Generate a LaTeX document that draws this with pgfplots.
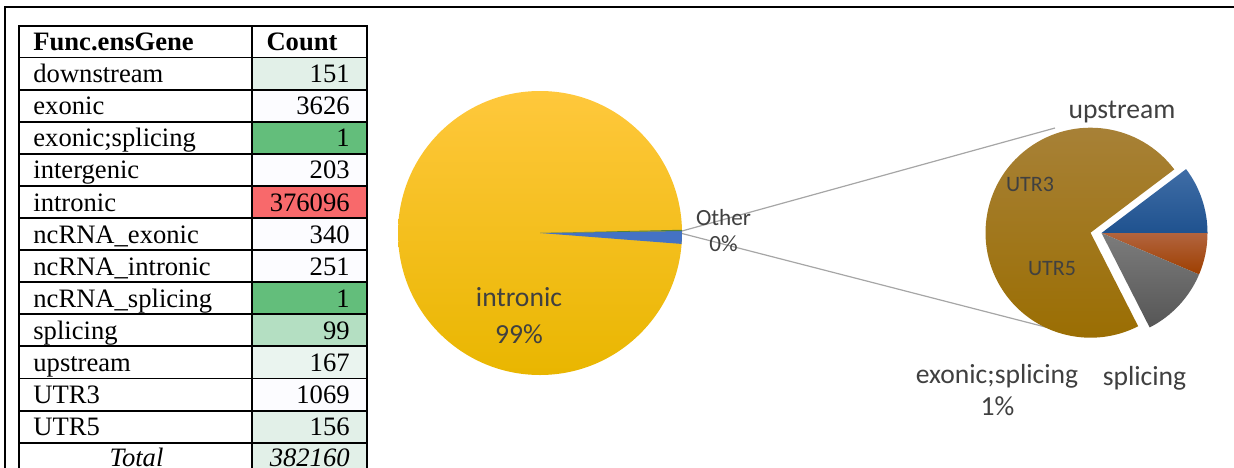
\documentclass[border=0pt]{standalone}
\usepackage{pgfplots}
\pgfplotsset{compat=1.18}
\usepackage{fontspec}
\setmainfont{Liberation Serif}
\newfontfamily\calib{Carlito}
\definecolor{lab}{HTML}{404040}
\definecolor{yelT}{HTML}{FFC83C}
\definecolor{yelB}{HTML}{E9B600}
\definecolor{brT}{HTML}{A8823A}
\definecolor{brB}{HTML}{9A6D00}
\definecolor{blT}{HTML}{3F6DA6}
\definecolor{blB}{HTML}{1F528F}
\definecolor{rdT}{HTML}{B2643E}
\definecolor{rdB}{HTML}{9E3F00}
\definecolor{grT}{HTML}{7C7C7C}
\definecolor{grB}{HTML}{565656}
\definecolor{mblue}{HTML}{4472C4}
\definecolor{mgreen}{HTML}{548235}
\definecolor{cLG}{HTML}{E2F0E8}
\definecolor{cW}{HTML}{FCFCFF}
\definecolor{cG}{HTML}{63BE7B}
\definecolor{cR}{HTML}{F8696B}
\definecolor{cMG}{HTML}{B4DFC2}
\definecolor{cUp}{HTML}{EAF4EF}
\definecolor{conn}{HTML}{A6A6A6}
% data (counts in thousands for pgfmath)
\def\valIntronic{376.096}
\def\valTotal{382.160}
% second pie shares (percent)
\def\shBrown{72.2}\def\shBlue{10.3}\def\shRed{6.4}\def\shGray{11.1}
\pgfmathsetmacro\otherdeg{360*(\valTotal-\valIntronic)/\valTotal}
\pgfmathsetmacro\oStart{1.3}
\pgfmathsetmacro\oEnd{\oStart-\otherdeg}
\pgfmathsetmacro\gEnd{\oStart-0.5}
\pgfmathsetmacro\aBlue{3.6*\shBlue}
\pgfmathsetmacro\aRed{-3.6*\shRed}
\pgfmathsetmacro\aGray{\aRed-3.6*\shGray}
\pgfmathsetmacro\aBrownEnd{\aBlue+3.6*\shBrown}
\begin{document}
\begin{tikzpicture}
\begin{axis}[
  width=617pt, height=233.5pt, scale only axis,
  xmin=0, xmax=1234, ymin=0, ymax=467,
  hide axis, clip=false]
% outer frame
\draw[black, line width=1pt] (axis cs:4.5,-10) -- (axis cs:4.5,459.7) -- (axis cs:1240,459.7);
% table cell fills
\fill[cLG] (axis cs:252.3,409.5) rectangle (axis cs:366.7,377.4);
\fill[cW]  (axis cs:252.3,377.4) rectangle (axis cs:366.7,345.3);
\fill[cG]  (axis cs:252.3,345.3) rectangle (axis cs:366.7,313.2);
\fill[cW]  (axis cs:252.3,313.2) rectangle (axis cs:366.7,281.1);
\fill[cR]  (axis cs:252.3,281.1) rectangle (axis cs:366.7,249.0);
\fill[cW]  (axis cs:252.3,249.0) rectangle (axis cs:366.7,216.9);
\fill[cW]  (axis cs:252.3,216.9) rectangle (axis cs:366.7,184.8);
\fill[cG]  (axis cs:252.3,184.8) rectangle (axis cs:366.7,152.7);
\fill[cMG] (axis cs:252.3,152.7) rectangle (axis cs:366.7,120.6);
\fill[cUp] (axis cs:252.3,120.6) rectangle (axis cs:366.7,88.5);
\fill[cW]  (axis cs:252.3,88.5) rectangle (axis cs:366.7,56.4);
\fill[cLG] (axis cs:252.3,56.4) rectangle (axis cs:366.7,24.3);
\fill[cLG] (axis cs:252.3,24.3) rectangle (axis cs:366.7,-10);
% table grid
\begin{scope}[line width=0.95pt, black]
\draw (axis cs:19,-10) -- (axis cs:19,441) -- (axis cs:366.7,441) -- (axis cs:366.7,-10);
\draw (axis cs:252.3,-10) -- (axis cs:252.3,441);
\draw (axis cs:19,409.5) -- (axis cs:366.7,409.5);
\draw (axis cs:19,377.4) -- (axis cs:366.7,377.4);
\draw (axis cs:19,345.3) -- (axis cs:366.7,345.3);
\draw (axis cs:19,313.2) -- (axis cs:366.7,313.2);
\draw (axis cs:19,281.1) -- (axis cs:366.7,281.1);
\draw (axis cs:19,249.0) -- (axis cs:366.7,249.0);
\draw (axis cs:19,216.9) -- (axis cs:366.7,216.9);
\draw (axis cs:19,184.8) -- (axis cs:366.7,184.8);
\draw (axis cs:19,152.7) -- (axis cs:366.7,152.7);
\draw (axis cs:19,120.6) -- (axis cs:366.7,120.6);
\draw (axis cs:19,88.5) -- (axis cs:366.7,88.5);
\draw (axis cs:19,56.4) -- (axis cs:366.7,56.4);
\draw (axis cs:19,24.3) -- (axis cs:366.7,24.3);
\end{scope}
% table text
\begin{scope}[every node/.style={inner sep=0pt, font=\fontsize{13.3}{16}\selectfont}]
\node[anchor=base west] at (axis cs:33,416.3) {\bfseries Func.ensGene};
\node[anchor=base] at (axis cs:302,416.3) {\bfseries Count};
\node[anchor=base west] at (axis cs:33,384.4) {downstream};
\node[anchor=base west] at (axis cs:33,352.3) {exonic};
\node[anchor=base west] at (axis cs:33,320.2) {exonic;splicing};
\node[anchor=base west] at (axis cs:33,288.1) {intergenic};
\node[anchor=base west] at (axis cs:33,256.0) {intronic};
\node[anchor=base west] at (axis cs:33,223.9) {ncRNA\_exonic};
\node[anchor=base west] at (axis cs:33,191.8) {ncRNA\_intronic};
\node[anchor=base west] at (axis cs:33,159.7) {ncRNA\_splicing};
\node[anchor=base west] at (axis cs:33,127.6) {splicing};
\node[anchor=base west] at (axis cs:33,95.5) {upstream};
\node[anchor=base west] at (axis cs:33,63.4) {UTR3};
\node[anchor=base west] at (axis cs:33,31.3) {UTR5};
\node[anchor=base] at (axis cs:136.5,0.5) {\itshape Total};
\node[anchor=base east] at (axis cs:350,384.4) {151};
\node[anchor=base east] at (axis cs:350,352.3) {3626};
\node[anchor=base east] at (axis cs:350,320.2) {1};
\node[anchor=base east] at (axis cs:350,288.1) {203};
\node[anchor=base east] at (axis cs:350,256.0) {376096};
\node[anchor=base east] at (axis cs:350,223.9) {340};
\node[anchor=base east] at (axis cs:350,191.8) {251};
\node[anchor=base east] at (axis cs:350,159.7) {1};
\node[anchor=base east] at (axis cs:350,127.6) {99};
\node[anchor=base east] at (axis cs:350,95.5) {167};
\node[anchor=base east] at (axis cs:350,63.4) {1069};
\node[anchor=base east] at (axis cs:350,31.3) {156};
\node[anchor=base east] at (axis cs:350,0.5) {\itshape 382160};
\end{scope}
% connector lines
\draw[conn, line width=0.6pt] (axis cs:682,236) -- (axis cs:1055,339);
\draw[conn, line width=0.6pt] (axis cs:682,233.5) -- (axis cs:1057,137);
% main pie
\shade[top color=yelT, bottom color=yelB] (axis cs:540,234) circle[radius=71pt];
\fill[mblue] (axis cs:540,234) -- ++(\gEnd:71pt) arc[start angle=\gEnd, end angle=\oEnd, radius=71pt] -- cycle;
\fill[mgreen] (axis cs:540,234) -- ++(\oStart:71pt) arc[start angle=\oStart, end angle=\gEnd, radius=71pt] -- cycle;
% second pie
\shade[top color=brT, bottom color=brB] (axis cs:1090.5,234.3) -- ++(\aBlue:52.5pt) arc[start angle=\aBlue, end angle=\aBrownEnd, radius=52.5pt] -- cycle;
\shade[top color=blT, bottom color=blB] (axis cs:1101.5,234) -- ++(0:53pt) arc[start angle=0, end angle=\aBlue, radius=53pt] -- cycle;
\shade[top color=rdT, bottom color=rdB] (axis cs:1101.5,234) -- ++(\aRed:53pt) arc[start angle=\aRed, end angle=0, radius=53pt] -- cycle;
\shade[top color=grT, bottom color=grB] (axis cs:1101.5,234) -- ++(\aGray:53pt) arc[start angle=\aGray, end angle=\aRed, radius=53pt] -- cycle;
% labels
\begin{scope}[every node/.style={inner sep=0pt, text=lab, font=\calib\fontsize{13.8}{16}\selectfont}]
\node[anchor=base] at (axis cs:519,160.3) {intronic};
\node[anchor=base] at (axis cs:519,123.7) {99\%};
\node[anchor=base, font=\calib\fontsize{11.6}{14}\selectfont] at (axis cs:723.5,242) {Other};
\node[anchor=base, font=\calib\fontsize{11.6}{14}\selectfont] at (axis cs:723.5,215.3) {0\%};
\node[anchor=base] at (axis cs:1122,348.7) {upstream};
\node[anchor=base] at (axis cs:997,83.7) {exonic;splicing};
\node[anchor=base] at (axis cs:997.5,52) {1\%};
\node[anchor=base] at (axis cs:1144.5,82) {splicing};
\node[anchor=base, font=\calib\fontsize{11}{13}\selectfont] at (axis cs:1030,275.3) {UTR3};
\node[anchor=base, font=\calib\fontsize{11}{13}\selectfont] at (axis cs:1052,192) {UTR5};
\end{scope}
\end{axis}
\pgfresetboundingbox
\path (current axis.south west) rectangle (current axis.north east);
\end{tikzpicture}
\end{document}
